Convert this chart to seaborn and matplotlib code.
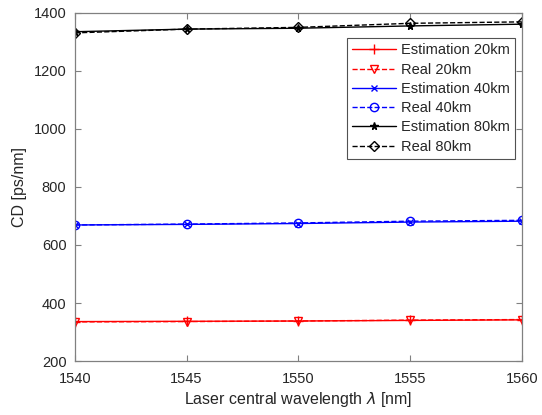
import matplotlib
matplotlib.use("Agg")
import matplotlib.pyplot as plt
import seaborn as sns
import pandas as pd

wavelength = [1540, 1545, 1550, 1555, 1560]
est_20 = [336, 337, 338, 340, 342]
real_20 = [335, 336, 338, 341, 343]
est_40 = [669, 671, 674, 679, 682]
real_40 = [669, 672, 676, 682, 685]
est_80 = [1335, 1344, 1347, 1355, 1361]
real_80 = [1331, 1344, 1350, 1364, 1369]

labels = ["Estimation 20km", "Real 20km", "Estimation 40km",
          "Real 40km", "Estimation 80km", "Real 80km"]
series = [est_20, real_20, est_40, real_40, est_80, real_80]

sns.set_theme(style="ticks")
plt.rcParams["font.family"] = ["Liberation Sans", "DejaVu Sans"]
plt.rcParams["mathtext.fontset"] = "dejavusans"

fig = plt.figure(figsize=(5.42, 4.15), dpi=100)
ax = fig.add_axes([0.138, 0.130, 0.825, 0.839])

styles = [
    dict(color="red", ls="-", marker="+", mfc="red", ms=7),
    dict(color="red", ls="--", marker="v", mfc="none", ms=6),
    dict(color="blue", ls="-", marker="x", mfc="blue", ms=5),
    dict(color="blue", ls="--", marker="o", mfc="none", ms=6),
    dict(color="black", ls="-", marker="*", mfc="black", ms=5.5),
    dict(color="black", ls="--", marker="D", mfc="none", ms=5),
]

for lab, vals, st in zip(labels, series, styles):
    df = pd.DataFrame({"x": wavelength, "y": vals})
    sns.lineplot(data=df, x="x", y="y", ax=ax, label=lab,
                 color=st["color"], linestyle=st["ls"], marker=st["marker"],
                 markerfacecolor=st["mfc"], markeredgecolor=st["color"],
                 markersize=st["ms"], markeredgewidth=1.0, linewidth=1.0)

ax.set_xlim(1540, 1560)
ax.set_ylim(200, 1400)
ax.set_xticks(wavelength)
ax.set_yticks([200, 400, 600, 800, 1000, 1200, 1400])
ax.set_xlabel(r"Laser central wavelength $\lambda$ [nm]", fontsize=11.5,
              color="#262626", labelpad=3)
ax.set_ylabel("CD [ps/nm]", fontsize=11.5, color="#262626", labelpad=5)
ax.tick_params(direction="in", top=True, right=True, labelsize=10.5,
               labelcolor="#262626", length=4, width=0.8, color="#808080")
ax.tick_params(axis="x", pad=8)
ax.tick_params(axis="y", pad=6)
for sp in ax.spines.values():
    sp.set_color("#808080")
    sp.set_linewidth(0.9)
    sp.set_visible(True)

leg = ax.legend(loc="upper right", bbox_to_anchor=(0.985, 0.927), fontsize=10.5,
                frameon=True, fancybox=False, handlelength=3.0,
                borderpad=0.35, labelspacing=0.36, handletextpad=0.35,
                borderaxespad=0)
leg.get_frame().set_edgecolor("#262626")
leg.get_frame().set_linewidth(0.8)

fig.savefig("out.png", dpi=100)
